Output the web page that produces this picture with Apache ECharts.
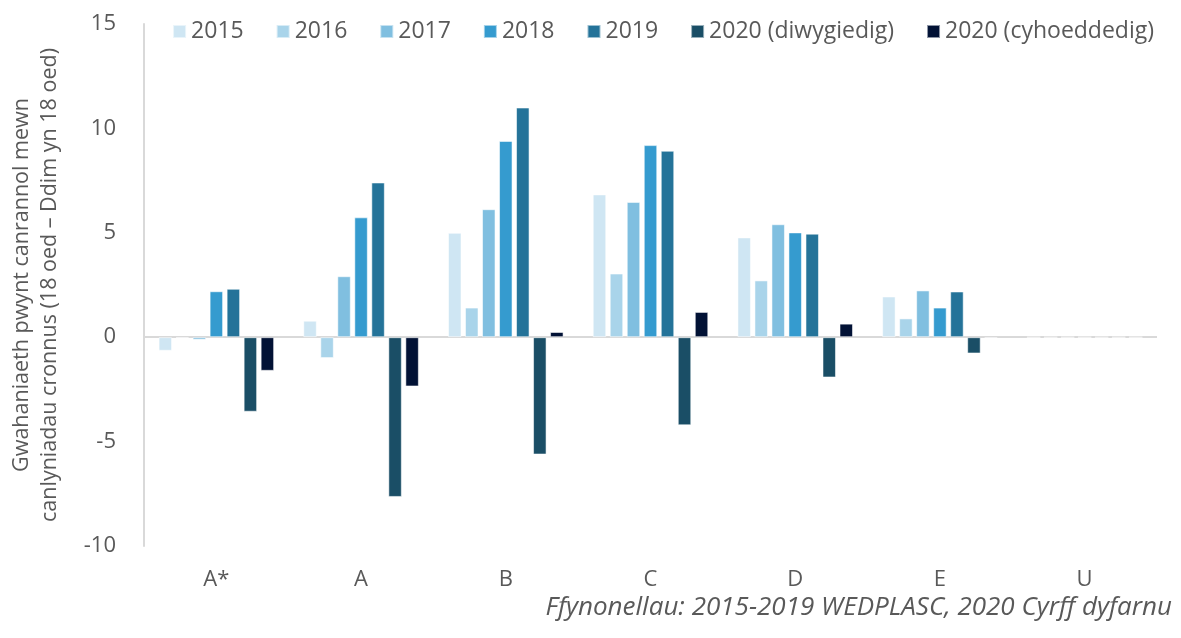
<!DOCTYPE html>
<html>
<head>
<meta charset="utf-8">
<script src="https://cdn.jsdelivr.net/npm/echarts@6/dist/echarts.min.js"></script>
<style>
  html, body { margin: 0; padding: 0; background: #fff; }
  #chart { width: 1181px; height: 638px; }
</style>
</head>
<body>
<div id="chart"></div>
<script>
  const grades = ['A*', 'A', 'B', 'C', 'D', 'E', 'U'];
  const seriesNames = ['2015', '2016', '2017', '2018', '2019', '2020 (diwygiedig)', '2020 (cyhoeddedig)'];
  const seriesColors = ['#cfe6f3', '#a9d4ea', '#80bfe0', '#359bcf', '#247399', '#1a4e66', '#021235'];

  // gwerthoedd fesul blwyddyn, un gwerth i bob gradd
  const v2015 = [-0.65, 0.79, 5.0, 6.84, 4.78, 1.95, 0];
  const v2016 = [-0.05, -1.0, 1.42, 3.05, 2.72, 0.9, 0];
  const v2017 = [-0.12, 2.92, 6.13, 6.48, 5.41, 2.24, 0];
  const v2018 = [2.2, 5.74, 9.4, 9.2, 5.02, 1.42, 0];
  const v2019 = [2.32, 7.41, 11.0, 8.93, 4.96, 2.19, 0];
  const v2020d = [-3.57, -7.65, -5.62, -4.22, -1.93, -0.78, 0];
  const v2020c = [-1.61, -2.36, 0.25, 1.21, 0.65, -0.05, 0];
  const allValues = [v2015, v2016, v2017, v2018, v2019, v2020d, v2020c];

  const yTicks = [-10, -5, 0, 5, 10, 15];

  const textColor = '#595959';
  const font = '"Open Sans", "Noto Sans", sans-serif';

  const chart = echarts.init(document.getElementById('chart'));

  const series = seriesNames.map((name, i) => ({
    name: name,
    type: 'bar',
    data: allValues[i],
    barWidth: 13.5,
    barGap: '26%',
    animation: false,
    itemStyle: {
      color: seriesColors[i],
      borderColor: 'rgba(255,255,255,0.55)',
      borderWidth: 1
    }
  }));

  // llinell sero
  series[0].markLine = {
    silent: true,
    symbol: 'none',
    label: { show: false },
    lineStyle: { color: '#d9d9d9', width: 2, type: 'solid' },
    data: [{ yAxis: 0 }],
    z: 1
  };

  const option = {
    textStyle: { fontFamily: font },
    legend: {
      data: seriesNames,
      right: 22,
      top: 15,
      itemWidth: 13,
      itemHeight: 13,
      itemGap: 32,
      icon: 'rect',
      selectedMode: false,
      textStyle: { fontSize: 23, color: textColor, fontFamily: font }
    },
    grid: {
      left: 140,
      right: 24,
      top: 24,
      bottom: 92
    },
    xAxis: {
      type: 'category',
      data: grades,
      axisLine: { show: false, onZero: false },
      axisTick: { show: false },
      axisLabel: { fontSize: 22, color: textColor, margin: 23, fontFamily: font }
    },
    yAxis: {
      type: 'value',
      min: yTicks[0],
      max: yTicks[yTicks.length - 1],
      interval: 5,
      name: 'Gwahaniaeth pwynt canrannol mewn\ncanlyniadau cronnus (18 oed – Ddim yn 18 oed)',
      nameLocation: 'middle',
      nameGap: 80,
      nameTextStyle: { fontSize: 21.5, color: textColor, lineHeight: 28, fontFamily: font },
      axisLine: { show: true, lineStyle: { color: '#d9d9d9', width: 2 } },
      axisTick: { show: false },
      splitLine: { show: false },
      axisLabel: { fontSize: 22, color: textColor, margin: 28, fontFamily: font }
    },
    graphic: [{
      type: 'text',
      right: 9,
      top: 595,
      style: {
        text: 'Ffynonellau: 2015-2019 WEDPLASC, 2020 Cyrff dyfarnu',
        fontSize: 26,
        fontStyle: 'italic',
        fill: textColor,
        fontFamily: font
      }
    }],
    series: series
  };

  chart.setOption(option);
</script>
</body>
</html>
